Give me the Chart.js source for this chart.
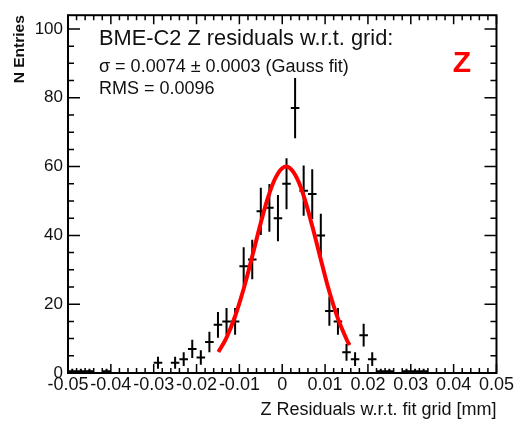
<!DOCTYPE html>
<html>
<head>
<meta charset="utf-8">
<script src="https://cdn.jsdelivr.net/npm/chart.js@4.4.1/dist/chart.umd.min.js"></script>
<style>
  html, body { margin: 0; padding: 0; background: #fff; }
</style>
</head>
<body>
<canvas id="resChart" width="515" height="425"></canvas>
<script>
// histogram: bin centres [mm] and entries (bin width 0.002)
const binCentres = [-0.049, -0.047, -0.045, -0.041,
    -0.029, -0.025, -0.023, -0.021, -0.019, -0.017, -0.015, -0.013, -0.011,
    -0.009, -0.007, -0.005, -0.003, -0.001, 0.001, 0.003, 0.005, 0.007, 0.009,
    0.011, 0.013, 0.015, 0.017, 0.019, 0.021,
    0.023, 0.025, 0.029, 0.031, 0.033];
const binEntries = [0.5, 0.5, 0.5, 0.5,
    3, 3, 4, 7, 4.5, 9, 14, 15, 15,
    31, 33, 47, 48, 45, 55, 77, 53, 52, 40,
    18, 15, 6, 4, 11, 4,
    0.5, 0.5, 0.5, 0.5, 0.5];
const binHalfWidth = 0.001;

// gauss fit curve
const fitX = [-0.0149, -0.013, -0.011, -0.009, -0.007, -0.005, -0.003, -0.001,
    0.001, 0.003, 0.005, 0.007, 0.009, 0.011, 0.013, 0.015, 0.0157];
const fitY = [6.1, 10.3, 16.5, 24.5, 33.9, 43.7, 52.2, 58.0,
    60.0, 57.6, 51.5, 42.7, 33.0, 23.6, 15.8, 9.8, 8.1];

const xTickLabels = ['-0.05', '-0.04', '-0.03', '-0.02', '-0.01', '0',
    '0.01', '0.02', '0.03', '0.04', '0.05'];
const yTickLabels = ['0', '20', '40', '60', '80', '100'];

const FONT = '"Liberation Sans", Arial, Helvetica, sans-serif';

// frame, inward ticks, error bars and the text box
const rootStyle = {
    id: 'rootStyle',
    beforeDatasetsDraw(chart) {
        const { ctx, scales: { x, y } } = chart;
        ctx.save();
        ctx.strokeStyle = '#000';
        ctx.lineWidth = 2;
        binCentres.forEach((c, i) => {
            const n = binEntries[i];
            const err = Math.sqrt(n);
            const px = x.getPixelForValue(c);
            const py = y.getPixelForValue(n);
            ctx.beginPath();
            ctx.moveTo(x.getPixelForValue(c - binHalfWidth), py);
            ctx.lineTo(x.getPixelForValue(c + binHalfWidth), py);
            ctx.moveTo(px, y.getPixelForValue(Math.max(n - err, 0)));
            ctx.lineTo(px, y.getPixelForValue(n + err));
            ctx.stroke();
        });
        ctx.restore();
    },
    afterDraw(chart) {
        const { ctx, chartArea: a, scales: { x, y } } = chart;
        ctx.save();
        ctx.strokeStyle = '#000';
        ctx.lineWidth = 2;
        ctx.strokeRect(a.left, a.top, a.right - a.left, a.bottom - a.top);

        ctx.lineWidth = 1.5;
        ctx.beginPath();
        // x ticks every 0.002, long ones every 0.01
        for (let k = -25; k <= 25; k++) {
            const px = x.getPixelForValue(k * 0.002);
            const len = k % 5 === 0 ? 9 : 5;
            ctx.moveTo(px, a.bottom); ctx.lineTo(px, a.bottom - len);
            ctx.moveTo(px, a.top); ctx.lineTo(px, a.top + len);
        }
        // y ticks every 5, long ones every 20
        for (let v = 0; v <= 100; v += 5) {
            const py = y.getPixelForValue(v);
            const len = v % 20 === 0 ? 12 : 6;
            ctx.moveTo(a.left, py); ctx.lineTo(a.left + len, py);
            ctx.moveTo(a.right, py); ctx.lineTo(a.right - len, py);
        }
        ctx.stroke();

        ctx.fillStyle = '#111';
        ctx.textAlign = 'left';
        ctx.textBaseline = 'alphabetic';
        ctx.font = '21.8px ' + FONT;
        ctx.fillText('BME-C2 Z residuals w.r.t. grid:', 99, 45);
        ctx.font = '18px ' + FONT;
        ctx.fillText('\u03C3 = 0.0074 \u00B1 0.0003 (Gauss fit)', 99, 72);
        ctx.fillText('RMS = 0.0096', 99, 94);

        ctx.fillStyle = '#ff0000';
        ctx.font = 'bold 30px ' + FONT;
        ctx.textAlign = 'center';
        ctx.fillText('Z', 462, 72);
        ctx.restore();
    }
};

new Chart(document.getElementById('resChart').getContext('2d'), {
    type: 'scatter',
    data: {
        datasets: [{
            type: 'line',
            data: fitX.map((v, i) => ({ x: v, y: fitY[i] })),
            borderColor: '#ff0000',
            borderWidth: 4,
            pointRadius: 0,
            tension: 0.4,
            fill: false
        }]
    },
    options: {
        responsive: false,
        animation: false,
        events: [],
        layout: { padding: { left: 0, top: 13, right: 18, bottom: 0 } },
        plugins: { legend: { display: false }, tooltip: { enabled: false } },
        scales: {
            x: {
                type: 'linear',
                min: -0.05,
                max: 0.05,
                afterFit(scale) { scale.height = 52; },
                grid: { display: false, drawTicks: false },
                border: { display: false },
                ticks: {
                    stepSize: 0.01,
                    autoSkip: false,
                    maxRotation: 0,
                    minRotation: 0,
                    includeBounds: false,
                    padding: 1,
                    color: '#111',
                    font: { family: FONT, size: 18 },
                    callback: (v) => xTickLabels[Math.round(v * 100) + 5]
                },
                title: {
                    display: true,
                    text: 'Z Residuals w.r.t. fit grid [mm]',
                    align: 'end',
                    color: '#111',
                    font: { family: FONT, size: 18 },
                    padding: { top: 0, bottom: 4 }
                }
            },
            y: {
                type: 'linear',
                min: 0,
                max: 104,
                afterFit(scale) { scale.width = 68; },
                grid: { display: false, drawTicks: false },
                border: { display: false },
                ticks: {
                    stepSize: 20,
                    includeBounds: false,
                    padding: 5,
                    color: '#111',
                    font: { family: FONT, size: 17 },
                    callback: (v) => yTickLabels[Math.round(v / 20)]
                },
                title: {
                    display: true,
                    text: 'N Entries',
                    align: 'end',
                    color: '#111',
                    font: { family: FONT, size: 15.5, weight: 'bold' },
                    padding: { top: 10, bottom: 0 }
                }
            }
        }
    },
    plugins: [rootStyle]
});
</script>
</body>
</html>
